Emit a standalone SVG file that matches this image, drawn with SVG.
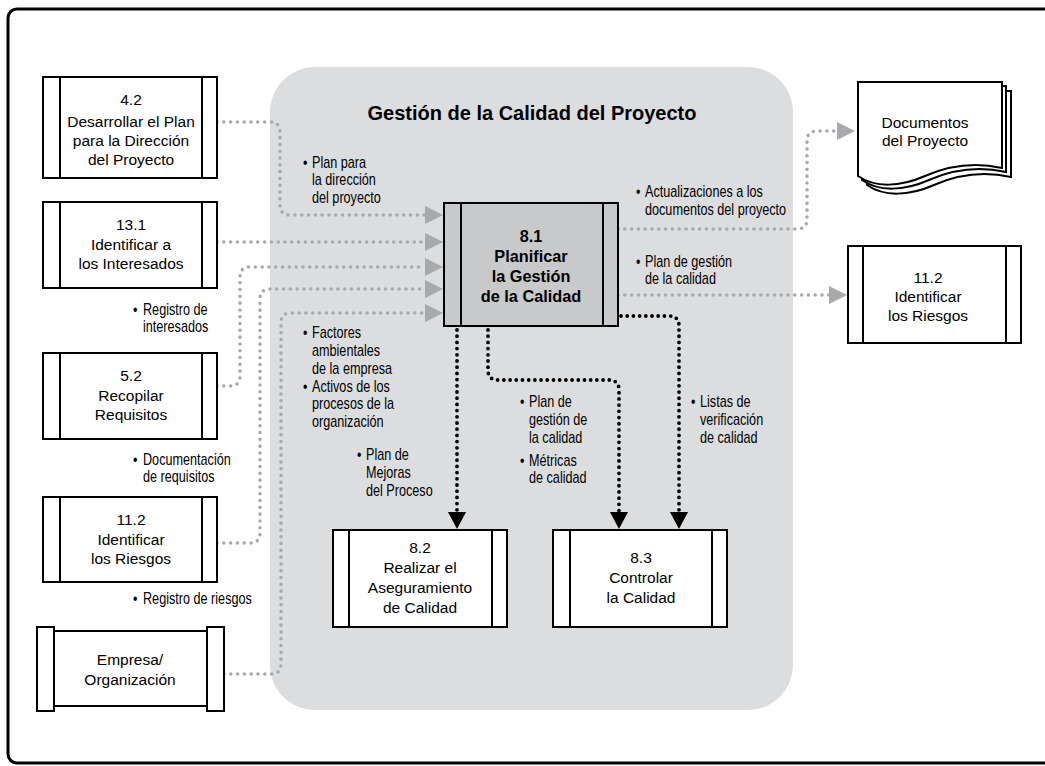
<svg xmlns="http://www.w3.org/2000/svg" width="1045" height="766" viewBox="0 0 1045 766">
<style>
.box{fill:#fff;stroke:#000;stroke-width:2}
.ln{stroke:#000;stroke-width:2;fill:none}
.bt{font-family:"Liberation Sans",Arial,sans-serif;font-size:15.5px;fill:#000;text-anchor:middle}
.lb{font-family:"Liberation Sans",Arial,sans-serif;font-size:16px;fill:#000}
.gd{fill:none;stroke:#a7a9ac;stroke-width:3.6;stroke-linecap:round;stroke-dasharray:0 6.8}
.bd{fill:none;stroke:#000;stroke-width:3.8;stroke-linecap:round;stroke-dasharray:0 6.2}
</style>
<defs>
<marker id="ga" viewBox="0 0 18 18" refX="0" refY="9" markerWidth="18" markerHeight="18" markerUnits="userSpaceOnUse" orient="auto"><path d="M0,0 L18,9 L0,18 Z" fill="#a7a9ac"/></marker>
<marker id="ba" viewBox="0 0 17 18" refX="0" refY="9" markerWidth="17" markerHeight="18" markerUnits="userSpaceOnUse" orient="auto"><path d="M0,0 L17,9 L0,18 Z" fill="#000"/></marker>
</defs>
<rect x="0" y="0" width="1045" height="766" fill="#fff"/>
<rect x="8" y="9" width="1060" height="754" rx="9" fill="none" stroke="#000" stroke-width="3"/>
<g id="region">
<rect x="270" y="67" width="523" height="643" rx="45" fill="#dcdddf"/>
<text x="532" y="120" font-family="'Liberation Sans',Arial,sans-serif" font-size="20" font-weight="bold" text-anchor="middle">Gestión de la Calidad del Proyecto</text>
</g>
<g id="connectors">
<path class="gd" d="M217,122 H270 Q280,122 280,132 V205 Q280,215 290,215 H425" marker-end="url(#ga)"/>
<path class="gd" d="M217,242 H425" marker-end="url(#ga)"/>
<path class="gd" d="M217,386 H230 Q240,386 240,376 V277 Q240,267 250,267 H425" marker-end="url(#ga)"/>
<path class="gd" d="M217,543 H250 Q260,543 260,533 V299 Q260,289 270,289 H425" marker-end="url(#ga)"/>
<path class="gd" d="M224,674 H271 Q281,674 281,664 V323 Q281,313 291,313 H425" marker-end="url(#ga)"/>
<path class="gd" d="M618,229 H797 Q807,229 807,219 V141 Q807,131 817,131 H837" marker-end="url(#ga)"/>
<path class="gd" d="M618,295 H829" marker-end="url(#ga)"/>
<path class="bd" d="M457,330 V512" marker-end="url(#ba)"/>
<path class="bd" d="M488,330 V370 Q488,380 498,380 H609 Q619,380 619,390 V512" marker-end="url(#ba)"/>
<path class="bd" d="M621,316 H669 Q679,316 679,326 V512" marker-end="url(#ba)"/>
</g>
<g id="labels">
<g transform="translate(312,0) scale(0.79,1)"><text class="lb"><tspan x="-11.4" y="168">•</tspan><tspan x="0" y="168">Plan para</tspan><tspan x="0" y="185.5">la dirección</tspan><tspan x="0" y="203">del proyecto</tspan></text></g>
<g transform="translate(645,0) scale(0.79,1)"><text class="lb"><tspan x="-11.4" y="197">•</tspan><tspan x="0" y="197">Actualizaciones a los</tspan><tspan x="0" y="215">documentos del proyecto</tspan></text></g>
<g transform="translate(645,0) scale(0.79,1)"><text class="lb"><tspan x="-11.4" y="267">•</tspan><tspan x="0" y="267">Plan de gestión</tspan><tspan x="0" y="284">de la calidad</tspan></text></g>
<g transform="translate(143,0) scale(0.79,1)"><text class="lb"><tspan x="-12.6" y="315">•</tspan><tspan x="0" y="315">Registro de</tspan><tspan x="0" y="332">interesados</tspan></text></g>
<g transform="translate(143,0) scale(0.79,1)"><text class="lb"><tspan x="-12.6" y="465">•</tspan><tspan x="0" y="465">Documentación</tspan><tspan x="0" y="482">de requisitos</tspan></text></g>
<g transform="translate(143,0) scale(0.79,1)"><text class="lb"><tspan x="-12.6" y="604">•</tspan><tspan x="0" y="604">Registro de riesgos</tspan></text></g>
<g transform="translate(312,0) scale(0.79,1)"><text class="lb"><tspan x="-11.4" y="338">•</tspan><tspan x="0" y="338">Factores</tspan><tspan x="0" y="356">ambientales</tspan><tspan x="0" y="374">de la empresa</tspan><tspan x="-11.4" y="392">•</tspan><tspan x="0" y="392">Activos de los</tspan><tspan x="0" y="409.5">procesos de la</tspan><tspan x="0" y="427">organización</tspan></text></g>
<g transform="translate(366,0) scale(0.79,1)"><text class="lb"><tspan x="-11.4" y="460">•</tspan><tspan x="0" y="460">Plan de</tspan><tspan x="0" y="478">Mejoras</tspan><tspan x="0" y="496">del Proceso</tspan></text></g>
<g transform="translate(529,0) scale(0.79,1)"><text class="lb"><tspan x="-11.4" y="407">•</tspan><tspan x="0" y="407">Plan de</tspan><tspan x="0" y="425">gestión de</tspan><tspan x="0" y="443">la calidad</tspan><tspan x="-11.4" y="466">•</tspan><tspan x="0" y="466">Métricas</tspan><tspan x="0" y="483">de calidad</tspan></text></g>
<g transform="translate(700,0) scale(0.79,1)"><text class="lb"><tspan x="-11.4" y="407">•</tspan><tspan x="0" y="407">Listas de</tspan><tspan x="0" y="425">verificación</tspan><tspan x="0" y="443">de calidad</tspan></text></g>
</g>
<g id="n42">
<rect class="box" x="43" y="77" width="174" height="101"/>
<path class="ln" d="M60,77 V178 M202,77 V178"/>
<text class="bt"><tspan x="131" y="105">4.2</tspan><tspan x="131" y="127">Desarrollar el Plan</tspan><tspan x="131" y="146">para la Dirección</tspan><tspan x="131" y="165">del Proyecto</tspan></text>
</g>
<g id="n131">
<rect class="box" x="43" y="202" width="174" height="86"/>
<path class="ln" d="M60,202 V288 M202,202 V288"/>
<text class="bt"><tspan x="131" y="230">13.1</tspan><tspan x="131" y="250">Identificar a</tspan><tspan x="131" y="269">los Interesados</tspan></text>
</g>
<g id="n52">
<rect class="box" x="43" y="353" width="174" height="86"/>
<path class="ln" d="M60,353 V439 M202,353 V439"/>
<text class="bt"><tspan x="131" y="381">5.2</tspan><tspan x="131" y="401">Recopilar</tspan><tspan x="131" y="420">Requisitos</tspan></text>
</g>
<g id="n112a">
<rect class="box" x="43" y="497" width="174" height="85"/>
<path class="ln" d="M60,497 V582 M202,497 V582"/>
<text class="bt"><tspan x="131" y="525">11.2</tspan><tspan x="131" y="545">Identificar</tspan><tspan x="131" y="564">los Riesgos</tspan></text>
</g>
<g id="nEmp">
<rect class="box" x="54" y="631" width="153" height="75"/>
<rect class="box" x="37" y="627" width="17" height="84"/>
<rect class="box" x="207" y="627" width="17" height="84"/>
<text class="bt"><tspan x="130" y="665">Empresa/</tspan><tspan x="130" y="685">Organización</tspan></text>
</g>
<g id="n81">
<rect x="444" y="203" width="174" height="123" fill="#c8c9cb" stroke="#000" stroke-width="2"/>
<path class="ln" d="M461,203 V326 M603,203 V326"/>
<text font-family="'Liberation Sans',Arial,sans-serif" font-size="16.3" font-weight="bold" text-anchor="middle"><tspan x="531" y="242">8.1</tspan><tspan x="531" y="262">Planificar</tspan><tspan x="531" y="282">la Gestión</tspan><tspan x="531" y="302">de la Calidad</tspan></text>
</g>
<g id="n82">
<rect class="box" x="333" y="530" width="174" height="97"/>
<path class="ln" d="M349,530 V627 M492,530 V627"/>
<text class="bt"><tspan x="420" y="553">8.2</tspan><tspan x="420" y="573">Realizar el</tspan><tspan x="420" y="593">Aseguramiento</tspan><tspan x="420" y="613">de Calidad</tspan></text>
</g>
<g id="n83">
<rect class="box" x="553" y="530" width="174" height="97"/>
<path class="ln" d="M570,530 V627 M712,530 V627"/>
<text class="bt"><tspan x="641" y="563">8.3</tspan><tspan x="641" y="583">Controlar</tspan><tspan x="641" y="603">la Calidad</tspan></text>
</g>
<g id="nDocs">
<path class="box" d="M867,91 H1011 V177 C 984,171 959,174 934,185 C 909,196 884,197 867,185 Z"/>
<path class="box" d="M862,86 H1006 V172 C 979,166 954,169 929,180 C 904,191 879,192 862,180 Z"/>
<path class="box" d="M858,82 H1002 V168 C 975,162 950,165 925,176 C 900,187 875,188 858,176 Z"/>
<text class="bt"><tspan x="925" y="128">Documentos</tspan><tspan x="925" y="146">del Proyecto</tspan></text>
</g>
<g id="n112b">
<rect class="box" x="848" y="246" width="173" height="97"/>
<path class="ln" d="M863,246 V343 M1006,246 V343"/>
<text class="bt"><tspan x="928" y="283">11.2</tspan><tspan x="928" y="302">Identificar</tspan><tspan x="928" y="321">los Riesgos</tspan></text>
</g>
</svg>
